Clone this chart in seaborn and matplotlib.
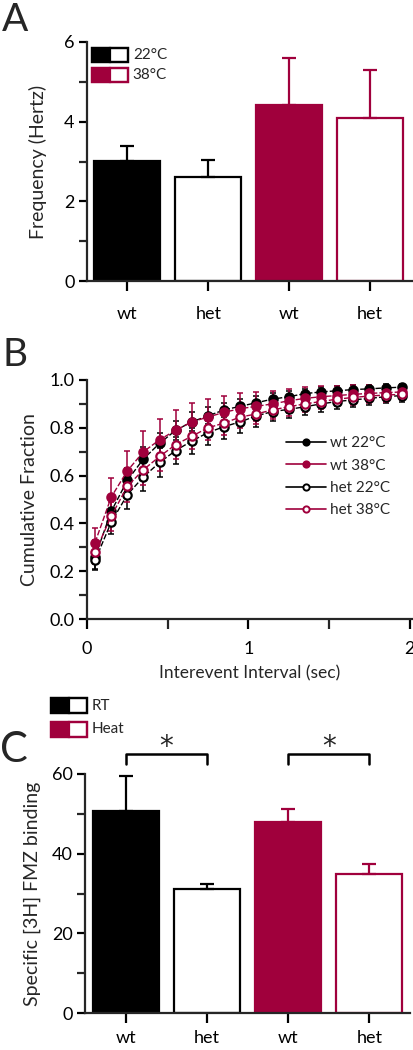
import numpy as np
import pandas as pd
import matplotlib
matplotlib.use("Agg")
import matplotlib.pyplot as plt
from matplotlib.patches import Rectangle
from matplotlib.lines import Line2D
from matplotlib.ticker import MultipleLocator, FormatStrFormatter
import seaborn as sns

# ---- data ----
# Panel A: frequency (Hz)
a_groups = ["wt 22", "het 22", "wt 38", "het 38"]
a_labels = ["wt", "het", "wt", "het"]
a_mean = [3.02, 2.62, 4.43, 4.10]
a_err = [0.38, 0.43, 1.17, 1.20]

# Panel B: cumulative fraction vs interevent interval
b_x = [0.05, 0.15, 0.25, 0.35, 0.45, 0.55, 0.65, 0.75, 0.85, 0.95,
       1.05, 1.15, 1.25, 1.35, 1.45, 1.55, 1.65, 1.75, 1.85, 1.95]
wt22 = [0.26, 0.45, 0.58, 0.67, 0.735, 0.79, 0.825, 0.85, 0.875, 0.89,
        0.905, 0.92, 0.93, 0.943, 0.95, 0.955, 0.96, 0.963, 0.967, 0.97]
wt22_err = [0.05, 0.05, 0.05, 0.05, 0.045, 0.04, 0.04, 0.035, 0.03, 0.03,
            0.028, 0.025, 0.023, 0.02, 0.02, 0.018, 0.017, 0.016, 0.015, 0.014]
wt38 = [0.32, 0.51, 0.62, 0.70, 0.75, 0.79, 0.825, 0.845, 0.865, 0.88,
        0.89, 0.90, 0.913, 0.923, 0.93, 0.935, 0.94, 0.944, 0.947, 0.95]
wt38_err = [0.06, 0.08, 0.085, 0.085, 0.085, 0.085, 0.08, 0.075, 0.07, 0.065,
            0.06, 0.055, 0.05, 0.047, 0.044, 0.04, 0.037, 0.035, 0.033, 0.03]
het22 = [0.245, 0.405, 0.52, 0.595, 0.655, 0.705, 0.745, 0.78, 0.805, 0.825,
         0.85, 0.868, 0.877, 0.888, 0.90, 0.91, 0.917, 0.923, 0.93, 0.935]
het22_err = [0.04, 0.05, 0.06, 0.06, 0.06, 0.055, 0.055, 0.05, 0.05, 0.045,
             0.045, 0.04, 0.038, 0.035, 0.033, 0.03, 0.03, 0.028, 0.027, 0.025]
het38 = [0.28, 0.43, 0.555, 0.625, 0.68, 0.73, 0.765, 0.80, 0.82, 0.845,
         0.858, 0.875, 0.888, 0.90, 0.91, 0.92, 0.927, 0.933, 0.937, 0.94]
het38_err = [0.05, 0.06, 0.065, 0.065, 0.06, 0.06, 0.055, 0.05, 0.05, 0.045,
             0.042, 0.04, 0.037, 0.035, 0.033, 0.03, 0.03, 0.028, 0.027, 0.025]

# Panel C: specific [3H] FMZ binding
c_groups = ["wt RT", "het RT", "wt Heat", "het Heat"]
c_labels = ["wt", "het", "wt", "het"]
c_mean = [50.8, 31.1, 47.9, 34.8]
c_err = [8.7, 1.3, 3.4, 2.6]

RED = "#A0003C"
face = ["black", "white", RED, "white"]
edge = ["black", "black", RED, RED]

sns.set_style("ticks")
plt.rcParams["font.family"] = ["Lato", "DejaVu Sans"]
plt.rcParams["axes.linewidth"] = 1.6
for k in ["xtick.major.width", "ytick.major.width", "xtick.minor.width", "ytick.minor.width"]:
    plt.rcParams[k] = 1.6
for k in ["xtick.major.size", "ytick.major.size", "xtick.minor.size", "ytick.minor.size"]:
    plt.rcParams[k] = 6

W, H = 414, 1050
fig = plt.figure(figsize=(W / 100, H / 100), dpi=100)


def px_axes(left, top, right, bottom):
    return fig.add_axes([left / W, 1 - bottom / H, (right - left) / W, (bottom - top) / H])


def style(ax):
    sns.despine(ax=ax)
    ax.tick_params(labelsize=13, colors="black", pad=3)


def bar_panel(ax, groups, labels, mean, err):
    df = pd.DataFrame({"group": groups, "value": mean})
    sns.barplot(data=df, x="group", y="value", order=groups, ax=ax,
                width=0.815, errorbar=None, color="white")
    for p, fc, ec in zip(ax.patches, face, edge):
        p.set_facecolor(fc)
        p.set_edgecolor(ec)
        p.set_linewidth(1.6)
    for i, (m, e) in enumerate(zip(mean, err)):
        ax.errorbar(i, m, yerr=[[0], [e]], fmt="none", ecolor=edge[i],
                    elinewidth=1.6, capsize=5, capthick=1.6)
    ax.set_xticks(range(len(groups)))
    ax.set_xticklabels(labels)
    ax.set_xlabel("")
    ax.set_xlim(-0.5, 3.52)


def legend_boxes(ax, x0, rows, w, h, texts):
    for (y0, col), t in zip(rows, texts):
        ax.add_patch(Rectangle((x0, y0), w / 2, h, transform=ax.transAxes,
                               facecolor=col, edgecolor=col, lw=1.6, clip_on=False))
        ax.add_patch(Rectangle((x0 + w / 2, y0), w / 2, h, transform=ax.transAxes,
                               facecolor="white", edgecolor=col, lw=1.6, clip_on=False))
        ax.add_patch(Rectangle((x0, y0), w, h, transform=ax.transAxes,
                               facecolor="none", edgecolor=col, lw=1.6, clip_on=False))
        ax.text(x0 + w + 0.015, y0 + h / 2, t, transform=ax.transAxes,
                va="center", ha="left", fontsize=11)


# ---- Panel A ----
axA = px_axes(87, 42, 412, 281)
bar_panel(axA, a_groups, a_labels, a_mean, a_err)
axA.set_ylim(0, 6)
axA.yaxis.set_major_locator(MultipleLocator(2))
axA.yaxis.set_minor_locator(MultipleLocator(1))
axA.set_ylabel("Frequency (Hertz)", fontsize=14, labelpad=12)
style(axA)
axA.tick_params(axis="x", length=7, pad=11)
legend_boxes(axA, 0.015, [(0.916, "black"), (0.833, RED)], 0.111, 0.059,
             ["22°C", "38°C"])
fig.text(2 / W, 1 - 31 / H, "A", fontsize=28, ha="left", va="baseline")

# ---- Panel B ----
axB = px_axes(87, 380, 413, 619)
series = [("wt 22°C", wt22, wt22_err, "black", "black"),
          ("wt 38°C", wt38, wt38_err, RED, RED),
          ("het 22°C", het22, het22_err, "black", "white"),
          ("het 38°C", het38, het38_err, RED, "white")]
for name, ys, es, col, mfc in series:
    axB.errorbar(b_x, ys, yerr=es, fmt="none", ecolor=col, elinewidth=1.3,
                 capsize=2.5, capthick=1.3, alpha=0.85)
handles = []
for name, ys, es, col, mfc in series:
    n0 = len(axB.lines)
    sns.lineplot(x=b_x, y=ys, ax=axB, color=col, marker="o", markersize=6,
                 markerfacecolor=mfc, markeredgecolor=col, markeredgewidth=1.6,
                 linewidth=1.0, legend=False)
    for ln in axB.lines[n0:]:
        ln.set_linestyle((0, (4, 1.5)))
    handles.append(Line2D([], [], color=col, lw=1.2, marker="o", markersize=4.5,
                          markerfacecolor=mfc, markeredgecolor=col,
                          markeredgewidth=1.4, label=name))
axB.set_xlim(0, 2.02)
axB.set_ylim(0, 1.0)
axB.xaxis.set_major_locator(MultipleLocator(1))
axB.xaxis.set_minor_locator(MultipleLocator(0.5))
axB.yaxis.set_major_locator(MultipleLocator(0.2))
axB.yaxis.set_minor_locator(MultipleLocator(0.1))
axB.yaxis.set_major_formatter(FormatStrFormatter("%.1f"))
axB.set_ylabel("Cumulative Fraction", fontsize=14, labelpad=8)
axB.set_xlabel("Interevent Interval (sec)", fontsize=12.5, labelpad=6)
style(axB)
axB.tick_params(axis="x", which="both", length=7, pad=9)
axB.legend(handles=handles, loc="upper left", bbox_to_anchor=(0.61, 0.765),
           frameon=False, fontsize=11, handlelength=2.6, handletextpad=0.3,
           labelspacing=0.55, borderaxespad=0, borderpad=0)
fig.text(3 / W, 1 - 366 / H, "B", fontsize=28, ha="left", va="baseline")

# ---- Panel C ----
axC = px_axes(85, 774, 410, 1013)
bar_panel(axC, c_groups, c_labels, c_mean, c_err)
axC.set_ylim(0, 60)
axC.yaxis.set_major_locator(MultipleLocator(20))
axC.yaxis.set_minor_locator(MultipleLocator(10))
axC.set_ylabel("Specific [3H] FMZ binding", fontsize=14, labelpad=8)
style(axC)
axC.tick_params(axis="x", length=7, pad=5)
axC.set_xlim(-0.5, 3.5)
# significance brackets
for x1, x2 in [(0, 1), (2, 3)]:
    axC.plot([x1, x1, x2, x2], [62.6, 64.9, 64.9, 62.6], color="black",
             lw=1.8, clip_on=False)
    axC.text((x1 + x2) / 2, 63.3, "*", ha="center", va="bottom",
             fontsize=20, clip_on=False, family="DejaVu Sans")
legend_boxes(axC, -0.105, [(1.255, "black"), (1.155, RED)], 0.111, 0.063,
             ["RT", "Heat"])
fig.text(0 / W, 1 - 762 / H, "C", fontsize=30, ha="left", va="baseline")

fig.savefig("out.png", dpi=100)
